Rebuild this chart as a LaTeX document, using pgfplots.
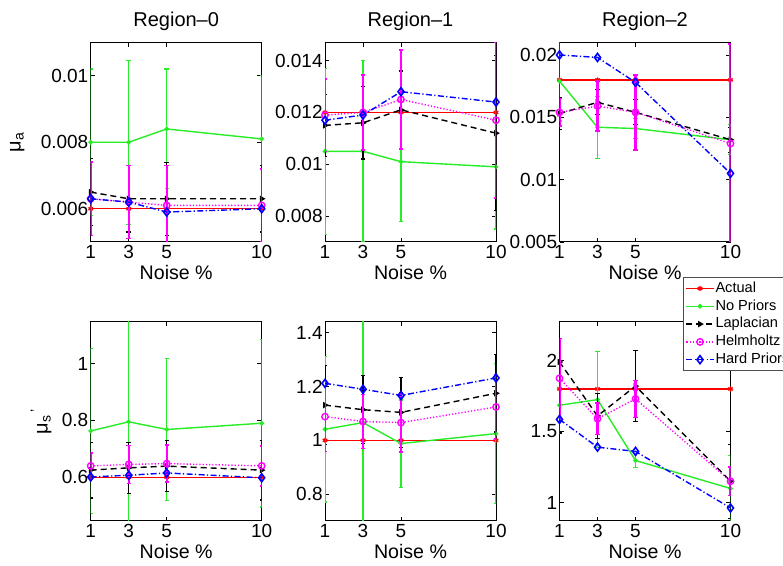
\documentclass[border=0pt]{standalone}
\usepackage{fontspec}
\setmainfont{Liberation Sans}
\usepackage{pgfplots}
\pgfplotsset{compat=1.18}

\definecolor{ngreen}{rgb}{0.15,0.93,0.15}
\definecolor{mmag}{rgb}{1,0,1}
\definecolor{mred}{rgb}{1,0,0}
\definecolor{mblue}{rgb}{0,0,1}

\pgfplotsset{
  panel/.style={
    scale only axis, width=85.5pt, height=99.75pt,
    anchor=south west,
    xmin=1, xmax=10, xtick={1,3,5,10},
    scaled y ticks=false,
    clip mode=individual,
    major tick length=2.2pt,
    tick style={black, line width=0.4pt},
    axis line style={line width=0.5pt},
    /pgf/number format/assume math mode=true,
    tick label style={font=\fontsize{9.5}{11}\selectfont},
    x tick label style={anchor=base, yshift=-8.2pt},
    y tick label style={inner xsep=1pt},
    xlabel={Noise \%},
    xlabel style={font=\fontsize{9.8}{11}\selectfont, at={(axis description cs:0.5,0)}, anchor=base, yshift=-19pt},
    title style={font=\fontsize{10}{12}\selectfont, at={(axis description cs:0.5,1)}, anchor=base, yshift=1.9pt},
    ylabel style={font=\fontsize{10}{12}\selectfont, anchor=center, rotate=0},
  },
  actual/.style={mred, solid, line width=0.7pt, mark=asterisk, mark size=1.3pt},
  nop/.style={ngreen, solid, line width=0.7pt, mark=*, mark size=0.8pt},
  lap/.style={black, line width=0.7pt, dash pattern=on 3pt off 2pt, mark=triangle*, mark size=1.2pt, mark options={solid, rotate=-90}},
  helm/.style={mmag, line width=0.7pt, dash pattern=on 0.6pt off 1pt, mark=o, mark size=1.6pt, mark options={solid}},
  hard/.style={mblue, line width=0.7pt, dash pattern=on 3pt off 1.2pt on 0.6pt off 1.2pt, mark=diamond, mark size=2pt, mark options={solid, line width=0.8pt}},
  eb/.style={error bars/y dir=both, error bars/y explicit,
    error bars/error bar style={solid, line width=0.6pt},
    error bars/error mark options={solid, rotate=90, mark size=1.1pt, line width=0.6pt}},
  ebthick/.style={error bars/y dir=both, error bars/y explicit,
    error bars/error bar style={solid, line width=1.1pt},
    error bars/error mark options={solid, rotate=90, mark size=1.1pt, line width=0.8pt}},
}

\begin{document}
\begin{tikzpicture}
\useasboundingbox (0,0) rectangle (391.5pt,283pt);
\clip (0,0) rectangle (391.5pt,283pt);

% ---- top row: mu_a ----
\begin{axis}[panel, at={(45.35pt,162pt)}, title={Region--0},
  ymin=0.005, ymax=0.011, ytick={0.006,0.008,0.01}, yticklabels={0.006,0.008,0.01},
  ylabel={μ\textsubscript{a}}, ylabel style={at={(axis description cs:-0.43,0.5)}}]
\addplot[actual] coordinates {(1,0.006) (3,0.006) (5,0.006) (10,0.006)};
\addplot[nop, eb] coordinates {(1,0.008) +- (0,0.0022) (3,0.008) +- (0,0.00247) (5,0.0084) +- (0,0.0018) (10,0.0081) +- (0,0.0019)};
\addplot[lap, eb] coordinates {(1,0.0065) +- (0,0.001) (3,0.0063) +- (0,0.001) (5,0.0063) +- (0,0.0011) (10,0.0063) +- (0,0.001)};
\addplot[helm, ebthick] coordinates {(1,0.0063) +- (0,0.0011) (3,0.0062) +- (0,0.0011) (5,0.0061) +- (0,0.0012) (10,0.0061) +- (0,0.0011)};
\addplot[hard] coordinates {(1,0.0063) (3,0.0062) (5,0.0059) (10,0.0060)};
\end{axis}

\begin{axis}[panel, at={(162.5pt,162pt)}, title={Region--1},
  ymin=0.007, ymax=0.0147, ytick={0.008,0.01,0.012,0.014}, yticklabels={0.008,0.01,0.012,0.014}]
\addplot[actual] coordinates {(1,0.012) (3,0.012) (5,0.012) (10,0.012)};
\addplot[nop, eb] coordinates {(1,0.0105) +- (0,0.0032) (3,0.0105) +- (0,0.0035) (5,0.0101) +- (0,0.0023) (10,0.0099) +- (0,0.0024)};
\addplot[lap, eb] coordinates {(1,0.0115) +- (0,0.0012) (3,0.0116) +- (0,0.0014) (5,0.0121) +- (0,0.0015) (10,0.0112) +- (0,0.003)};
\addplot[helm, ebthick] coordinates {(1,0.0119) +- (0,0.0014) (3,0.0120) +- (0,0.00145) (5,0.0125) +- (0,0.0019) (10,0.0117) +- (0,0.003)};
\addplot[hard] coordinates {(1,0.0117) (3,0.0119) (5,0.0128) (10,0.0124)};
\end{axis}

\begin{axis}[panel, at={(279.75pt,162pt)}, title={Region--2},
  ymin=0.005, ymax=0.021, ytick={0.005,0.01,0.015,0.02}, yticklabels={0.005,0.01,0.015,0.02}]
\addplot[actual] coordinates {(1,0.018) (3,0.018) (5,0.018) (10,0.018)};
\addplot[nop, eb] coordinates {(1,0.0179) +- (0,0.0032) (3,0.0142) +- (0,0.0025) (5,0.0141) +- (0,0.0008) (10,0.0132) +- (0,0.0012)};
\addplot[lap, eb] coordinates {(1,0.0153) +- (0,0.0013) (3,0.0162) +- (0,0.001) (5,0.0154) +- (0,0.001) (10,0.0132) +- (0,0.001)};
\addplot[helm, ebthick] coordinates {(1,0.0154) +- (0,0.0011) (3,0.0159) +- (0,0.002) (5,0.0154) +- (0,0.003) (10,0.0129) +- (0,0.008)};
\addplot[hard] coordinates {(1,0.0200) (3,0.0198) (5,0.0178) (10,0.0105)};
\end{axis}

% ---- bottom row: mu_s' ----
\begin{axis}[panel, at={(45.35pt,22.5pt)},
  ymin=0.446, ymax=1.148, ytick={0.6,0.8,1}, yticklabels={0.6,0.8,1},
  ylabel={μ\textsubscript{s}\textsuperscript{\,'}}, ylabel style={at={(axis description cs:-0.29,0.5)}}]
\addplot[actual] coordinates {(1,0.6) (3,0.6) (5,0.6) (10,0.6)};
\addplot[nop, eb] coordinates {(1,0.763) +- (0,0.29) (3,0.795) +- (0,0.4) (5,0.768) +- (0,0.25) (10,0.79) +- (0,0.295)};
\addplot[lap, eb] coordinates {(1,0.625) +- (0,0.098) (3,0.633) +- (0,0.09) (5,0.639) +- (0,0.09) (10,0.625) +- (0,0.105)};
\addplot[helm, ebthick] coordinates {(1,0.64) +- (0,0.046) (3,0.645) +- (0,0.067) (5,0.648) +- (0,0.065) (10,0.64) +- (0,0.07)};
\addplot[hard] coordinates {(1,0.601) (3,0.607) (5,0.615) (10,0.598)};
\end{axis}

\begin{axis}[panel, at={(162.5pt,22.5pt)},
  ymin=0.7, ymax=1.442, ytick={0.8,1,1.2,1.4}, yticklabels={0.8,1,1.2,1.4}]
\addplot[actual] coordinates {(1,1) (3,1) (5,1) (10,1)};
\addplot[nop, eb] coordinates {(1,1.041) +- (0,0.27) (3,1.066) +- (0,0.4) (5,0.988) +- (0,0.162) (10,1.025) +- (0,0.26)};
\addplot[lap, eb] coordinates {(1,1.131) +- (0,0.147) (3,1.114) +- (0,0.127) (5,1.104) +- (0,0.13) (10,1.175) +- (0,0.144)};
\addplot[helm, ebthick] coordinates {(1,1.088) +- (0,0.13) (3,1.07) +- (0,0.1) (5,1.066) +- (0,0.11) (10,1.124) +- (0,0.12)};
\addplot[hard] coordinates {(1,1.212) (3,1.19) (5,1.167) (10,1.232)};
\end{axis}

\begin{axis}[panel, at={(279.75pt,22.5pt)},
  ymin=0.87, ymax=2.275, ytick={1,1.5,2}, yticklabels={1,1.5,2},
  legend style={at={(axis description cs:0.724,1.223)}, anchor=north west,
    font=\fontsize{7.3}{8.5}\selectfont, draw=black!70, line width=0.4pt,
    inner xsep=1pt, inner ysep=1.5pt, row sep=0.8pt,
    nodes={inner sep=0.6pt, text height=5.3pt, text depth=1.6pt}},
  legend cell align=left,
  legend image code/.code={\draw[mark repeat=2, mark phase=2] plot coordinates {(0pt,0pt) (6.8pt,0pt) (13.6pt,0pt)};}]
\addplot[actual] coordinates {(1,1.8) (3,1.8) (5,1.8) (10,1.8)};
\addlegendentry{Actual}
\addplot[nop, eb] coordinates {(1,1.685) +- (0,0.2) (3,1.725) +- (0,0.34) (5,1.296) +- (0,0.05) (10,1.099) +- (0,0.23)};
\addlegendentry{No Priors}
\addplot[lap, eb] coordinates {(1,1.99) +- (0,0.5) (3,1.61) +- (0,0.16) (5,1.82) +- (0,0.25) (10,1.15) +- (0,0.26)};
\addlegendentry{Laplacian}
\addplot[helm, ebthick] coordinates {(1,1.875) +- (0,0.28) (3,1.59) +- (0,0.11) (5,1.73) +- (0,0.13) (10,1.15) +- (0,0.1)};
\addlegendentry{Helmholtz}
\addplot[hard] coordinates {(1,1.585) (3,1.39) (5,1.36) (10,0.962)};
\addlegendentry{Hard Priors}
\end{axis}
\end{tikzpicture}
\end{document}
